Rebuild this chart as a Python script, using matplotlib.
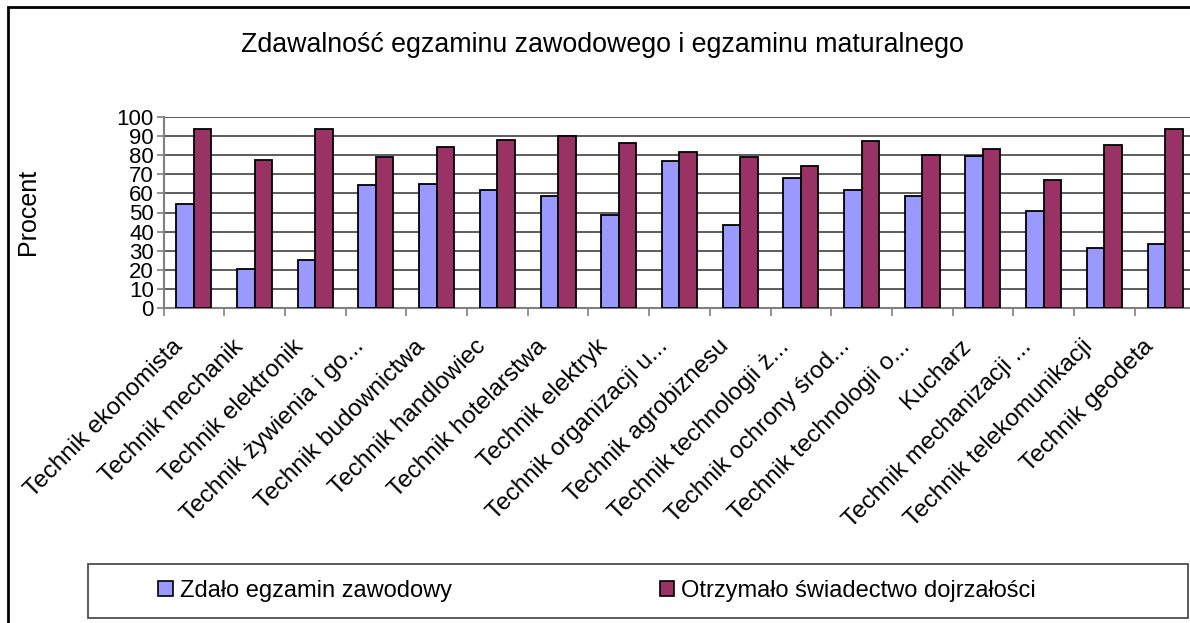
import matplotlib.pyplot as plt
import matplotlib.transforms as mtransforms
import numpy as np
from matplotlib.patches import Patch, Rectangle

plt.rcParams['font.family'] = ['Liberation Sans', 'DejaVu Sans']

categories = [
    "Technik ekonomista", "Technik mechanik", "Technik elektronik",
    "Technik żywienia i go...", "Technik budownictwa", "Technik handlowiec",
    "Technik hotelarstwa", "Technik elektryk", "Technik organizacji u...",
    "Technik agrobiznesu", "Technik technologii ż...", "Technik ochrony środ...",
    "Technik technologii o...", "Kucharz", "Technik mechanizacji ...",
    "Technik telekomunikacji", "Technik geodeta",
]
zawodowy = [54.3, 20.7, 25.2, 64.3, 65.0, 61.7, 58.8, 48.9, 77.0,
            43.3, 68.0, 61.7, 58.8, 79.6, 50.8, 31.7, 33.6]
dojrzalosc = [93.4, 77.2, 93.4, 78.8, 84.2, 88.0, 89.9, 86.3, 81.6,
              78.8, 74.3, 87.1, 80.0, 83.3, 67.0, 85.4, 93.4]
yticks = list(range(0, 101, 10))

BLUE = "#9999FF"
MAROON = "#993366"

fig = plt.figure(figsize=(11.9, 6.23), dpi=100)
W, H = 1190, 623

# ramka wykresu
fig.patches.append(Rectangle((8 / W, -0.05), 1.2, 1 - 7 / H + 0.05,
                             transform=fig.transFigure, fill=False,
                             edgecolor="black", linewidth=2))

ax = fig.add_axes([163.5 / W, (H - 308.3) / H, 17 * 60.7 / W, 191.6 / H])
x = np.arange(len(categories))
bw = 0.288
ax.bar(x - bw / 2, zawodowy, bw, color=BLUE, edgecolor="black", linewidth=1.3,
       zorder=3)
ax.bar(x + bw / 2, dojrzalosc, bw, color=MAROON, edgecolor="black",
       linewidth=1.3, zorder=3)

ax.set_xlim(-0.5, len(categories) - 0.5)
ax.set_ylim(0, 100)
ax.set_yticks(yticks)
ax.set_yticklabels([str(v) for v in yticks], fontsize=16)
ax.yaxis.grid(True, color="#303030", linewidth=1.1, zorder=0)

# etykiety kategorii pod katem 45 stopni
ax.set_xticks(x)
ax.set_xticklabels([])
shift = mtransforms.ScaledTranslation(-0.15, -0.35, fig.dpi_scale_trans)
for xi, name in zip(x, categories):
    ax.text(xi, 0, name, transform=ax.transData + shift, rotation=45,
            rotation_mode="anchor", ha="right", va="center", fontsize=17.5,
            clip_on=False)
ax.set_xticks(np.arange(-0.5, len(categories)), minor=True)
ax.tick_params(axis="x", which="major", length=0)
ax.tick_params(axis="x", which="minor", length=6, color="#808080", width=1.2)
ax.tick_params(axis="y", length=5, color="#808080", width=1.2, pad=2)

for side in ("top", "right"):
    ax.spines[side].set_visible(False)
for side in ("left", "bottom"):
    ax.spines[side].set_color("#808080")
    ax.spines[side].set_linewidth(1.5)

fig.text(28 / W, 1 - 212 / H, "Procent", rotation=90, ha="center",
         va="center", fontsize=18)

fig.text(602 / W, 1 - 45 / H, "Zdawalność egzaminu zawodowego i egzaminu maturalnego",
         ha="center", va="center", fontsize=19.3)

# legenda
fig.patches.append(Rectangle((88 / W, 1 - 618 / H), 1100 / W, 54 / H,
                             transform=fig.transFigure, fill=False,
                             edgecolor="#404040", linewidth=1.2))
handles = [Patch(facecolor=BLUE, edgecolor="black", linewidth=1.2),
           Patch(facecolor=MAROON, edgecolor="black", linewidth=1.2)]
fig.legend(handles, ["Zdało egzamin zawodowy", "Otrzymało świadectwo dojrzałości"],
           loc="center", bbox_to_anchor=(597 / W, 1 - 591 / H), ncol=2,
           frameon=False, fontsize=17, handlelength=0.6, handleheight=0.6,
           handletextpad=0.3, columnspacing=8.8)

fig.savefig("out.png", dpi=100)
